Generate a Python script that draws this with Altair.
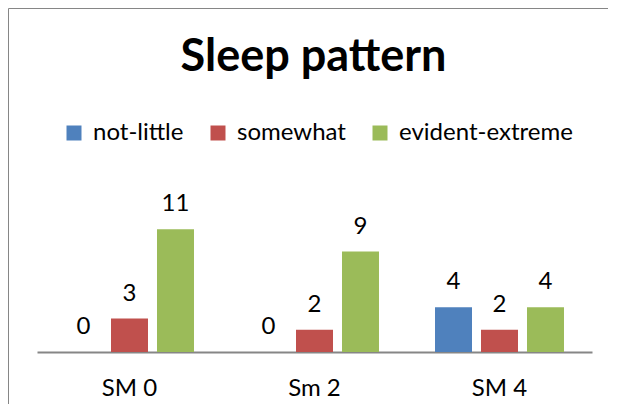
import altair as alt
import pandas as pd

categories = ["SM 0", "Sm 2", "SM 4"]
series = ["not-little", "somewhat", "evident-extreme"]
not_little = [0, 0, 4]
somewhat = [3, 2, 2]
evident_extreme = [11, 9, 4]
colors = ["#4F81BD", "#C0504D", "#9BBB59"]
title_text = "Sleep pattern"

rows = []
for s, vals in zip(series, [not_little, somewhat, evident_extreme]):
    for c, v in zip(categories, vals):
        rows.append({"cat": c, "series": s, "value": v})
df = pd.DataFrame(rows)

FONT = "Lato"
W, H = 555, 134

x = alt.X("cat:N", sort=categories,
          scale=alt.Scale(paddingInner=0, paddingOuter=0),
          axis=alt.Axis(title=None, labelAngle=0, ticks=False, tickSize=0,
                        domainColor="#868686", domainWidth=2,
                        labelFontSize=24, labelFont=FONT, labelColor="#000000",
                        labelBaseline="alphabetic", labelPadding=43))
xo = alt.XOffset("series:N", sort=series,
                 scale=alt.Scale(paddingInner=0.1957, paddingOuter=0.609))
y = alt.Y("value:Q", scale=alt.Scale(domain=[0, 12], nice=False), axis=None)
color = alt.Color("series:N", sort=series,
                  scale=alt.Scale(domain=series, range=colors),
                  legend=alt.Legend(title=None, orient="none", legendX=25, legendY=-97,
                                    direction="horizontal", symbolType="square",
                                    symbolSize=225, symbolStrokeWidth=0,
                                    labelFontSize=24, labelFont=FONT, labelColor="#000000",
                                    labelLimit=400,
                                    labelOffset=7, columnPadding=22, padding=0))

base = alt.Chart(df)
bars = base.mark_bar().encode(x=x, xOffset=xo, y=y, color=color)
labels = base.mark_text(dy=-18, fontSize=24, font=FONT, color="#000000", baseline="alphabetic").encode(
    x=x, xOffset=xo, y=y, text=alt.Text("value:Q"))

one = pd.DataFrame({"t": [title_text]})
top_line = alt.Chart(one).mark_rule(stroke="#868686", strokeWidth=1).encode(
    x=alt.value(-28.5), x2=alt.value(571), y=alt.value(-209.5))
left_line = alt.Chart(one).mark_rule(stroke="#868686", strokeWidth=1).encode(
    x=alt.value(-28.5), y=alt.value(-209.5), y2=alt.value(186))
title = alt.Chart(one).mark_text(fontSize=45, font=FONT, fontWeight="bold", color="#000000",
                                 align="center", baseline="alphabetic").encode(
    x=alt.value(276.5), y=alt.value(71 - 218), text="t:N")

chart = alt.layer(top_line, left_line, bars, labels, title).properties(
    width=W, height=H,
    autosize=alt.AutoSizeParams(type="none"),
    padding={"left": 29, "top": 210, "right": 17, "bottom": 53},
).configure_view(stroke=None)

chart.save("out.html", embed_options={"renderer": "svg", "actions": False})
